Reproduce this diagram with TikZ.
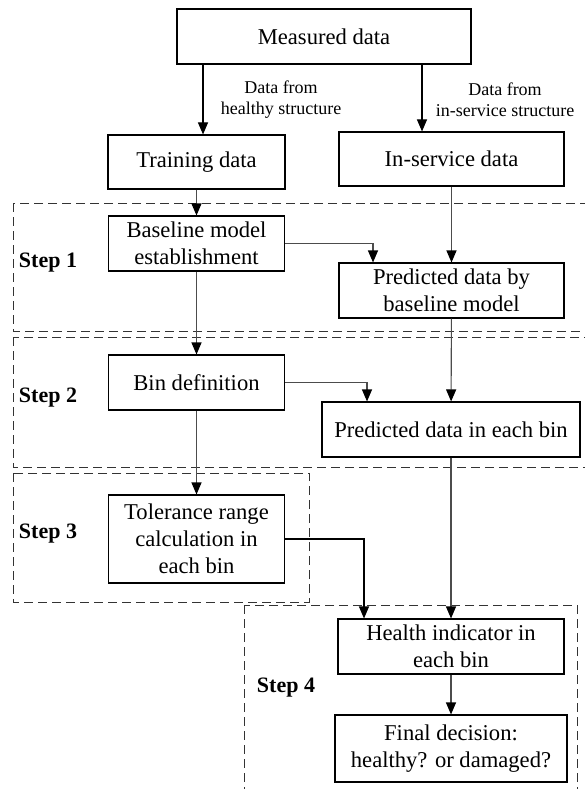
\documentclass[tikz,border=0pt]{standalone}
\usepackage{fontspec}
\setmainfont{Liberation Serif}
\usetikzlibrary{arrows.meta, calc, positioning}

\begin{document}
\begin{tikzpicture}[x=1pt, y=-1pt,
    blk/.style = {draw=black, line width=1.1pt, align=center, inner sep=2pt,
                  font=\fontsize{22.6}{27}\selectfont},
    arr/.style = {draw=black!70, line width=1.1pt, -{Triangle[length=12pt, width=10pt, color=black]}},
    stepbox/.style = {draw=black!80, line width=1pt, dash pattern=on 9pt off 5pt},
    steplab/.style = {font=\bfseries\fontsize{22}{26}\selectfont},
    lab/.style = {align=center, font=\fontsize{18}{21}\selectfont}]
    \useasboundingbox (0,0) rectangle (584,789);
    \begin{scope}
        \draw[stepbox] (13,203) rectangle (600,331);
        \draw[stepbox] (13,337) rectangle (600,467);
        \draw[stepbox] (13,473) rectangle (309,602);
        \draw[stepbox] (244,605) rectangle (577,800);
        \foreach \s/\x/\y in {1/48/263, 2/48/398, 3/48/534, 4/286/688}{
            \node[steplab] (S\s) at (\x,\y) {Step \s};
        }
    \end{scope}
        \node[blk, minimum width=294pt, minimum height=55pt] (meas) at (324,36.5) {Measured data};
        \node[blk, minimum width=177pt, minimum height=54pt] (train) at (196.5,162) {Training data};
        \node[blk, minimum width=225pt, minimum height=54pt] (insvc) at (451.5,159) {In-service data};
        \node[blk, minimum width=176pt, minimum height=55pt] (base) at (196.5,243.5) {Baseline model\\establishment};
        \node[blk, minimum width=225pt, minimum height=55pt] (predbase) at (451.5,290.5) {Predicted data by\\baseline model};
        \node[blk, minimum width=176pt, minimum height=55pt] (bindef) at (196.5,382.5) {Bin definition};
        \node[blk, minimum width=258pt, minimum height=55pt] (predbin) at (451,429.5) {Predicted data in each bin};
        \node[blk, minimum width=176pt, minimum height=88pt] (tol) at (196.5,539) {Tolerance range\\calculation in\\each bin};
        \node[blk, minimum width=226pt, minimum height=55pt] (health) at (451,646.5) {Health indicator in\\each bin};
        \node[blk, minimum width=232pt, minimum height=67pt] (final) at (451,748.5) {Final decision:\\healthy? or damaged?};
        \node[lab] (Lh) at (281,100) {Data from\\healthy structure};
        \node[lab] (Li) at (505,100) {Data from\\in-service structure};
        \draw[arr, draw=black] ([xshift=-121pt]meas.south) -- ([xshift=-121pt]meas.south |- train.north);
        \draw[arr, draw=black] ([xshift=98pt]meas.south) -- ([xshift=98pt]meas.south |- insvc.north);
        \draw[arr] (train) -- (base);
        \draw[arr] (base) -- (bindef);
        \draw[arr] (bindef) -- (tol);
        \draw[arr] (insvc) -- (predbase);
        \draw[arr] (predbase) -- (predbin);
        \draw[arr] (predbin) -- (health);
        \draw[arr] (health) -- (final);
        \draw[arr] (base) -| ([xshift=-78.5pt]predbase.north);
        \draw[arr] (bindef) -| ([xshift=-84pt]predbin.north);
        \draw[arr, draw=black] (tol) -| ([xshift=-87pt]health.north);
\end{tikzpicture}
\end{document}
